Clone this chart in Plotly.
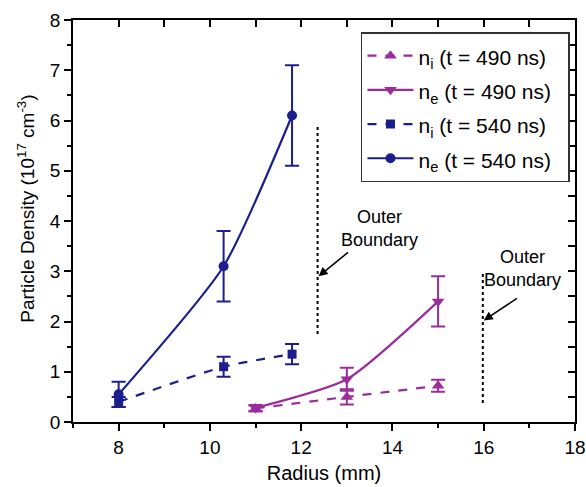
import plotly.graph_objects as go

# Data
r_490 = [11, 13, 15]
ni_490 = [0.27, 0.50, 0.72]
ni_490_err = [0.06, 0.15, 0.12]
ne_490 = [0.28, 0.85, 2.40]
ne_490_err = [0.06, 0.23, 0.50]

r_540 = [8, 10.3, 11.8]
ni_540 = [0.40, 1.10, 1.35]
ni_540_err = [0.10, 0.20, 0.20]
ne_540 = [0.55, 3.10, 6.10]
ne_540_err = [0.25, 0.70, 1.00]

x_ticks = [8, 10, 12, 14, 16, 18]
y_ticks = [0, 1, 2, 3, 4, 5, 6, 7, 8]

purple = "#9A2C9C"
navy = "#1B1F8E"

fig = go.Figure()

def add(x, y, err, name, color, dash, symbol, msize):
    fig.add_trace(go.Scatter(
        x=x, y=y, name="<span style='font-size:21px'>" + name + "\u00a0\u00a0</span>", mode="lines+markers",
        line=dict(color=color, width=2.2, dash=dash, shape="spline", smoothing=0.6),
        marker=dict(symbol=symbol, size=msize, color=color),
        error_y=dict(type="data", array=err, visible=True, color=color, thickness=2, width=7),
    ))

add(r_490, ni_490, ni_490_err, "n<sub>i</sub> (t = 490 ns)", purple, "dash", "triangle-up", 11)
add(r_490, ne_490, ne_490_err, "n<sub>e</sub> (t = 490 ns)", purple, "solid", "triangle-down", 11)
add(r_540, ni_540, ni_540_err, "n<sub>i</sub> (t = 540 ns)", navy, "dash", "square", 9)
add(r_540, ne_540, ne_540_err, "n<sub>e</sub> (t = 540 ns)", navy, "solid", "circle", 10)

# Boundary dotted lines
boundary_x = [12.36, 15.98]
boundary_y0 = [1.75, 0.38]
boundary_y1 = [5.92, 2.95]
for bx, y0, y1 in zip(boundary_x, boundary_y0, boundary_y1):
    fig.add_trace(go.Scatter(x=[bx, bx], y=[y0, y1], mode="lines",
                             line=dict(color="black", width=2, dash="dot"),
                             showlegend=False, hoverinfo="skip"))

font = "Liberation Sans"

# Annotations
fig.add_annotation(x=12.38, y=2.9, ax=13.06, ay=3.4, axref="x", ayref="y",
                   showarrow=True, arrowhead=2, arrowsize=1.2, arrowwidth=1.5, arrowcolor="black", text="")
fig.add_annotation(x=13.72, y=3.85, text="Outer<br>Boundary", showarrow=False,
                   font=dict(family=font, size=18, color="black"))
fig.add_annotation(x=16.0, y=2.02, ax=16.76, ay=2.48, axref="x", ayref="y",
                   showarrow=True, arrowhead=2, arrowsize=1.2, arrowwidth=1.5, arrowcolor="black", text="")
fig.add_annotation(x=16.86, y=3.05, text="Outer<br>Boundary", showarrow=False,
                   font=dict(family=font, size=18, color="black"))

# Y-axis title as annotation for exact placement
fig.add_annotation(xref="paper", yref="paper", x=-0.094, y=0.53, xanchor="center", yanchor="middle",
                   textangle=-90, showarrow=False,
                   text="Particle Density (10<sup>17</sup> cm<sup>-3</sup>)",
                   font=dict(family=font, size=19, color="black"))

axis_common = dict(showline=True, linecolor="black", linewidth=1.5, showgrid=False,
                   zeroline=False, ticks="outside", ticklen=7, tickwidth=1.5, tickcolor="black",
                   ticklabeloverflow="allow", automargin=False,
                   tickfont=dict(family=font, size=19, color="black"))

fig.update_layout(
    width=586, height=487,
    margin=dict(l=73, r=11, t=20, b=65, autoexpand=False),
    paper_bgcolor="white", plot_bgcolor="white",
    font=dict(family=font, size=18, color="black"),
    xaxis=dict(range=[7, 18], tickmode="array", tickvals=x_ticks,
               minor=dict(dtick=1, tick0=7, ticks="outside", ticklen=4, tickwidth=1.5, tickcolor="black"),
               title=dict(text="Radius (mm)", font=dict(family=font, size=20), standoff=9),
               **axis_common),
    yaxis=dict(range=[0, 8], tickmode="array", tickvals=y_ticks,
               minor=dict(dtick=0.5, ticks="outside", ticklen=4, tickwidth=1.5, tickcolor="black"),
               **axis_common),
    xaxis2=dict(overlaying="x", matches="x", side="top", range=[7, 18], dtick=1, tick0=7,
                showticklabels=False, ticks="inside", ticklen=7, tickwidth=1.5, tickcolor="black",
                showline=True, linecolor="black", linewidth=1.5, showgrid=False, zeroline=False),
    yaxis2=dict(overlaying="y", matches="y", side="right", range=[0, 8], dtick=0.5,
                showticklabels=False, ticks="inside", ticklen=7, tickwidth=1.5, tickcolor="black",
                showline=True, linecolor="black", linewidth=1.5, showgrid=False, zeroline=False),
    legend=dict(x=0.99, y=0.97, xanchor="right", yanchor="top",
                bordercolor="#333333", borderwidth=1.5, bgcolor="white",
                font=dict(family=font, size=24, color="black"), tracegroupgap=0,
                itemwidth=46),
)

# dummy trace to show the mirror axes
fig.add_trace(go.Scatter(x=[None], y=[None], xaxis="x2", yaxis="y2", showlegend=False, hoverinfo="skip"))

fig.write_html("out.html")
